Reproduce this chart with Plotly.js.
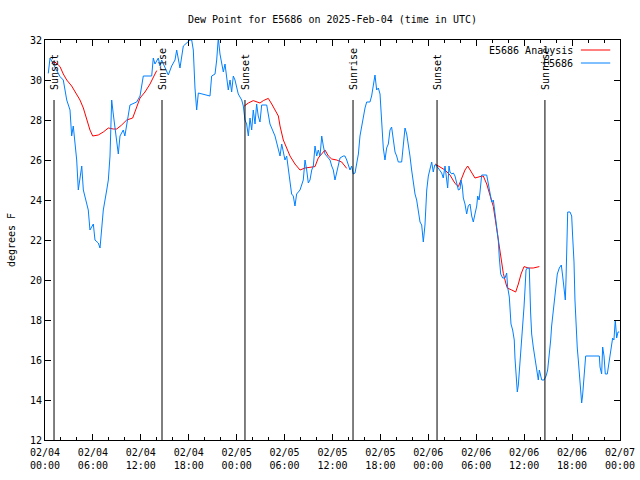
<!DOCTYPE html>
<html>
<head>
<meta charset="utf-8">
<script src="https://cdn.plot.ly/plotly-3.0.1.min.js"></script>
<style>html,body{margin:0;padding:0;background:#fff;}#chart{width:640px;height:480px;}</style>
</head>
<body>
<div id="chart"></div>
<script>
// Observed dew point (hours after 2025-02-04 00:00 UTC, degrees F)
var obsHours = [0.41,0.63,1.04,1.88,2.29,2.72,3.13,3.34,3.54,3.76,3.97,4.17,4.6,4.8,5.0,5.42,5.63,6.05,6.26,6.67,6.89,7.1,7.3,7.73,7.93,8.14,8.35,8.55,8.77,9.18,9.39,9.8,10.0,10.23,10.64,11.48,11.9,12.31,13.36,13.56,13.77,14.19,14.4,14.61,15.44,15.86,16.28,16.49,16.9,17.32,18.16,18.37,18.57,18.78,18.99,19.2,19.82,20.66,20.87,21.29,21.5,21.7,21.91,22.13,22.33,22.54,22.75,22.95,23.17,23.37,23.58,23.79,24.2,24.63,24.83,25.04,25.25,25.46,25.67,25.88,26.08,26.3,26.5,26.7,26.92,27.13,27.76,27.96,28.17,28.8,29.01,29.43,29.64,30.05,30.26,30.47,30.68,30.88,31.09,31.3,31.51,31.93,32.34,32.56,32.77,32.97,33.18,33.4,33.6,33.81,34.02,34.22,34.44,34.65,34.85,35.06,35.27,35.69,35.9,36.1,36.31,36.52,36.73,36.94,37.35,37.56,37.78,37.98,38.19,38.4,38.6,38.82,39.03,39.24,39.44,39.65,39.86,40.07,40.28,40.69,40.9,41.11,41.32,41.53,41.74,41.95,42.16,42.36,42.57,42.78,42.99,43.2,43.4,43.61,43.83,44.03,44.24,44.66,44.87,45.08,45.29,45.5,45.7,45.91,46.12,46.33,46.54,46.75,46.96,47.17,47.37,47.58,47.8,48.0,48.21,48.42,48.62,48.8,48.96,49.46,49.67,49.87,50.09,50.3,50.42,50.59,50.71,50.93,51.13,51.34,51.55,51.76,51.97,52.09,52.25,52.38,52.59,52.8,53.0,53.22,53.43,53.63,53.84,54.06,54.18,54.35,54.47,54.68,55.31,55.52,55.72,55.93,56.14,56.34,56.55,56.76,56.88,57.06,57.31,57.6,57.81,57.93,58.14,58.23,58.35,58.56,58.76,58.85,58.97,59.14,59.27,59.39,59.57,59.69,59.81,59.98,60.1,60.23,60.39,60.64,60.81,60.94,61.14,61.36,61.57,61.77,61.9,62.07,62.2,62.48,62.74,62.94,63.15,63.32,63.44,63.65,63.86,63.98,64.15,64.4,64.65,64.82,64.99,65.15,65.24,65.32,65.45,65.74,65.95,66.07,66.24,66.36,66.49,66.65,66.78,66.99,67.11,67.2,67.32,67.45,67.57,67.7,69.41,69.5,69.7,69.83,70.0,70.16,70.41,70.58,70.74,70.91,71.08,71.24,71.41,71.58,71.75,71.91];
var obsValues = [30.33,31.1,30.8,30.17,30.0,29.0,28.5,27.2,27.7,26.7,26.0,24.5,25.7,24.5,24.2,23.5,22.5,22.8,22.0,21.85,21.6,22.7,23.5,24.5,25.0,26.2,29.0,28.3,27.5,26.3,27.2,27.5,27.2,27.7,28.75,28.9,29.2,30.2,30.2,31.1,30.8,31.1,30.7,31.0,30.25,30.7,31.0,31.5,30.6,31.7,32.0,32.0,31.5,29.6,28.5,29.35,29.3,29.2,30.2,30.3,31.0,32.1,31.3,30.8,30.4,30.8,30.2,29.5,30.0,29.4,30.2,30.0,29.3,29.0,28.7,28.0,27.8,27.2,28.1,27.5,28.5,27.8,28.8,28.2,27.9,28.75,28.75,28.2,27.8,27.2,26.9,26.2,26.8,26.0,26.2,25.5,24.85,24.3,24.2,23.7,24.3,24.5,25.0,26.0,25.5,24.85,25.0,25.5,25.7,26.7,26.2,26.5,26.2,27.2,26.7,26.3,26.2,26.0,25.7,25.5,25.0,25.35,25.8,26.1,26.2,26.2,26.0,25.7,25.5,25.7,25.3,25.35,25.8,26.3,27.2,27.7,28.2,28.6,28.9,28.9,29.2,29.75,30.25,29.5,29.6,29.3,27.8,26.6,26.0,26.6,26.8,27.5,27.65,27.0,26.4,26.2,25.9,25.9,26.7,27.6,27.3,26.8,26.2,25.5,24.85,24.3,24.0,23.5,22.9,22.75,21.9,22.75,24.5,25.2,25.5,25.9,25.4,25.75,25.75,25.5,25.35,25.1,25.7,25.0,24.6,25.7,25.4,25.3,25.35,25.2,24.8,24.5,24.55,25.0,24.7,24.1,23.8,23.3,23.7,23.8,23.2,22.9,23.3,23.7,24.2,24.0,24.4,25.25,25.25,24.75,24.45,23.9,24.0,23.4,22.9,22.0,21.15,20.3,20.1,20.1,20.35,19.65,19.15,18.35,17.8,17.5,17.0,16.1,15.35,14.4,14.75,15.35,16.3,17.0,17.8,18.65,19.5,20.5,20.6,20.6,18.35,17.3,16.65,16.1,15.35,15.0,15.5,15.2,15.0,15.0,15.2,15.5,16.2,17.0,17.7,18.5,19.35,19.8,20.3,20.6,20.75,20.2,19.35,19.0,20.0,22.25,23.4,23.4,23.2,22.2,20.9,19.0,17.5,16.6,16.0,15.1,14.3,13.85,14.25,15.0,15.75,16.2,16.2,15.65,15.3,16.65,16.2,15.3,15.3,15.8,16.2,16.8,17.1,17.0,18.0,17.1,17.4,17.4];

// Analysis (null separates the three night-time pieces)
var anaHours = [0.84,1.25,1.67,1.88,2.29,2.72,3.34,3.97,4.38,4.8,5.22,5.63,5.97,6.67,7.3,7.93,8.55,8.98,9.6,10.23,10.98,11.48,11.9,12.52,13.15,13.77,13.99,
  19.0,
  24.96,25.46,26.08,26.5,26.92,27.34,27.96,28.39,28.8,29.22,29.43,29.84,30.26,30.68,31.3,31.93,32.56,33.18,33.81,34.22,34.65,35.06,35.48,35.9,36.52,37.15,37.78,
  43.0,
  48.84,49.46,50.09,50.71,51.34,51.76,52.17,52.59,52.93,53.43,53.84,54.47,54.88,55.31,55.72,56.14,56.47,56.76,56.98,57.39,57.73,57.89,58.44,58.94,59.27,59.61,59.98,60.52,61.14,61.9];
var anaValues = [30.83,30.9,30.75,30.67,30.3,30.0,29.7,29.3,29.0,28.6,28.0,27.5,27.2,27.25,27.4,27.6,27.55,27.55,27.75,28.0,28.1,28.65,29.1,29.4,29.8,30.3,30.47,
  null,
  28.7,28.85,28.97,28.9,28.85,28.97,29.08,28.8,28.5,28.2,27.7,27.0,26.6,26.2,25.8,25.5,25.6,25.62,25.67,26.1,26.33,26.5,26.2,26.05,26.0,25.9,25.58,
  null,
  25.8,25.65,25.5,25.25,24.83,24.67,25.1,25.5,25.7,25.4,25.1,25.17,25.2,24.8,24.3,23.67,22.8,22.0,21.3,20.33,19.8,19.6,19.5,19.4,19.8,20.3,20.67,20.6,20.6,20.67];

// Sun events (hours after 2025-02-04 00:00 UTC)
var sunHours = [1.13, 14.65, 25.04, 38.57, 49.09, 62.6];
var sunLabels = ["Sunset", "Sunrise", "Sunset", "Sunrise", "Sunset", "Sunrise"];

var seriesNames = ["E5686 Analysis", "E5686"];
var seriesColors = ["#ff0000", "#0080ff"];

var T0 = Date.UTC(2025, 1, 4, 0, 0, 0);
function toMs(h) { return T0 + h * 3600000; }

var mono = "DejaVu Sans Mono, monospace";

var traces = [
  {x: anaHours.map(toMs), y: anaValues, type: "scatter", mode: "lines",
   line: {color: seriesColors[0], width: 1}, connectgaps: false, showlegend: false, name: seriesNames[0]},
  {x: obsHours.map(toMs), y: obsValues, type: "scatter", mode: "lines",
   line: {color: seriesColors[1], width: 1}, showlegend: false, name: seriesNames[1]}
];

var shapes = [];
var annotations = [];
sunHours.forEach(function (h, i) {
  shapes.push({type: "line", xref: "x", yref: "y", x0: toMs(h), x1: toMs(h), y0: 12, y1: 29,
               line: {color: "#000", width: 1}});
  annotations.push({xref: "x", yref: "y", x: toMs(h), y: 29.4, text: sunLabels[i], textangle: -90,
                    showarrow: false, xanchor: "center", yanchor: "bottom",
                    font: {family: mono, size: 10, color: "#000"}});
});

// Gnuplot style key (top right)
var keyY = [0.975, 0.9425];
seriesNames.forEach(function (n, i) {
  annotations.push({xref: "paper", yref: "paper", x: 0.922, y: keyY[i], text: n, showarrow: false,
                    xanchor: "right", yanchor: "middle", font: {family: mono, size: 10, color: "#000"}});
  shapes.push({type: "line", xref: "paper", yref: "paper", x0: 0.932, x1: 0.983, y0: keyY[i], y1: keyY[i],
               line: {color: seriesColors[i], width: 1}});
});

var layout = {
  width: 640, height: 480,
  margin: {l: 45, r: 20, t: 40, b: 40, pad: 0},
  paper_bgcolor: "#fff", plot_bgcolor: "#fff",
  font: {family: mono, size: 10, color: "#000"},
  title: {text: "Dew Point for E5686 on 2025-Feb-04 (time in UTC)", x: 0.5, xref: "paper",
          y: 1 - 19 / 480, yref: "container", yanchor: "middle",
          font: {family: mono, size: 10, color: "#000"}},
  xaxis: {
    type: "date", range: [toMs(0), toMs(72)], dtick: 21600000, tick0: toMs(0),
    tickformat: "%m/%d<br>%H:%M", ticks: "inside", ticklen: 6, tickcolor: "#000",
    ticklabelstandoff: 3,
    minor: {dtick: 7200000, ticks: "inside", ticklen: 3, tickcolor: "#000"},
    showline: true, linecolor: "#000", linewidth: 1, mirror: "allticks",
    showgrid: false, zeroline: false, tickfont: {family: mono, size: 10, color: "#000"}
  },
  yaxis: {
    range: [12, 32], dtick: 2, tick0: 12, ticks: "inside", ticklen: 6, tickcolor: "#000",
    showline: true, linecolor: "#000", linewidth: 1, mirror: "allticks",
    showgrid: false, zeroline: false, tickfont: {family: mono, size: 10, color: "#000"},
    title: {text: "degrees F", font: {family: mono, size: 10, color: "#000"}, standoff: 12}
  },
  shapes: shapes,
  annotations: annotations,
  showlegend: false
};

Plotly.newPlot("chart", traces, layout, {displayModeBar: false, staticPlot: true});
</script>
</body>
</html>
